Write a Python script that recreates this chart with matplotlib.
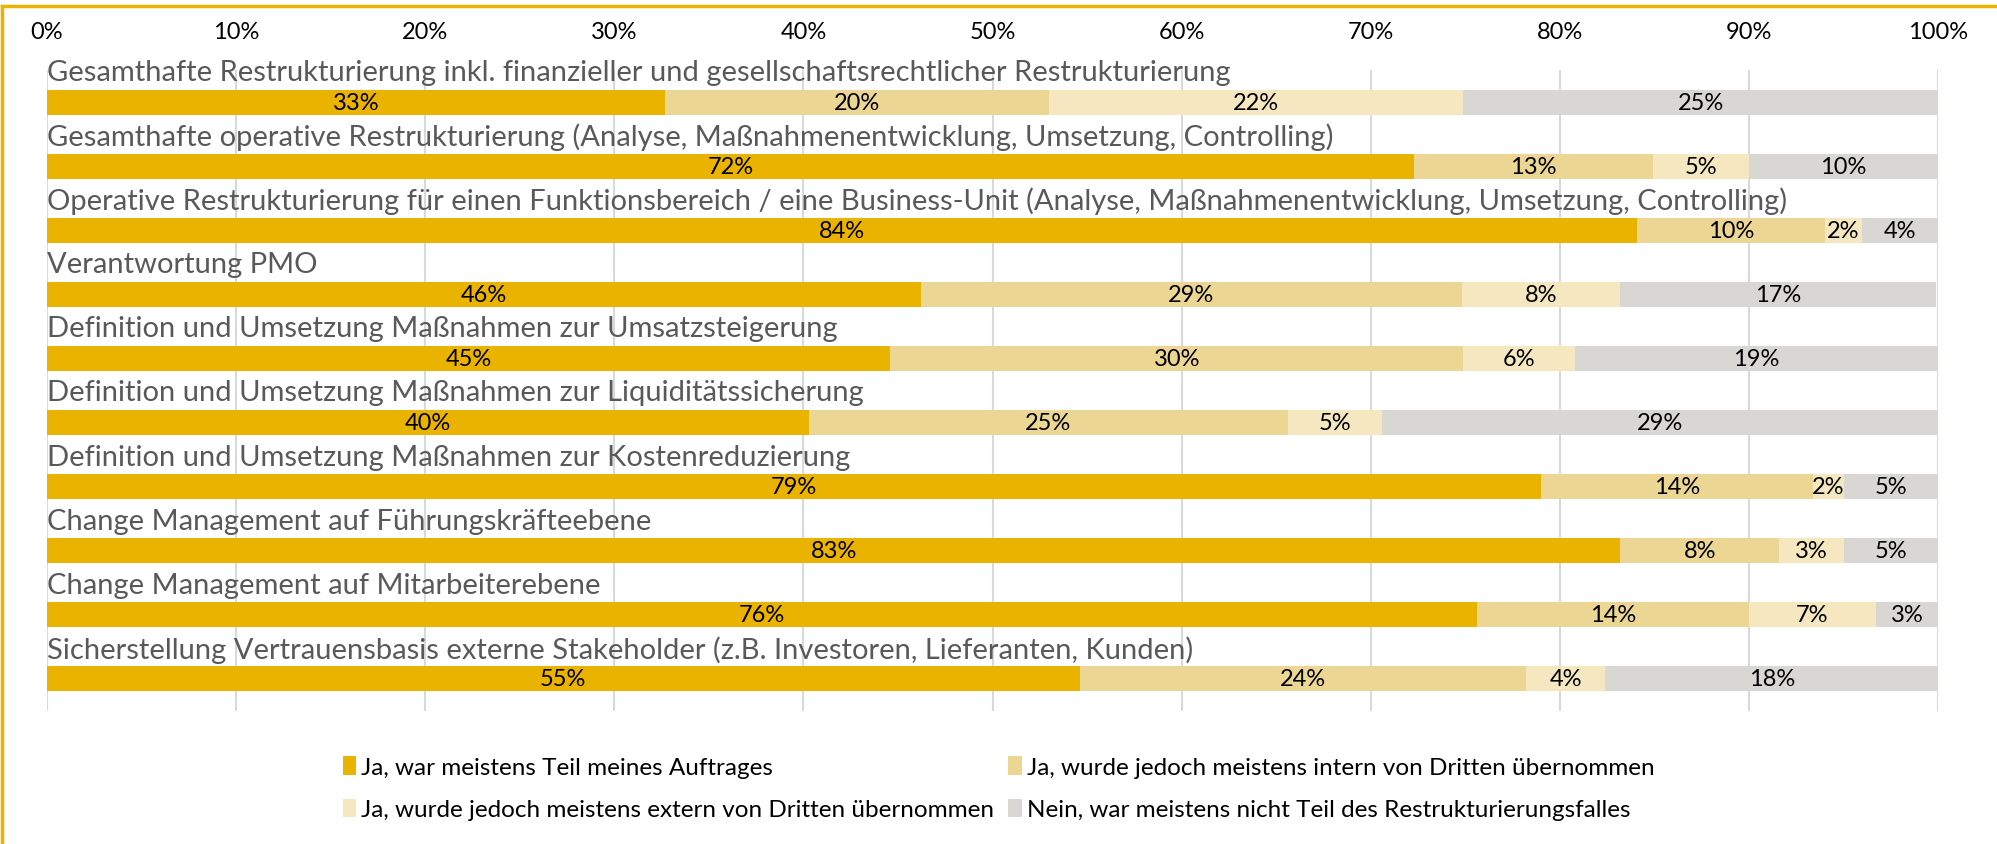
import matplotlib
matplotlib.use("Agg")
from matplotlib import pyplot as plt
from matplotlib.lines import Line2D
from matplotlib.patches import Patch
import numpy as np

plt.rcParams['font.family'] = ['Lato', 'DejaVu Sans']

# Kategorien (von oben nach unten)
kategorien = [
    "Gesamthafte Restrukturierung inkl. finanzieller und gesellschaftsrechtlicher Restrukturierung",
    "Gesamthafte operative Restrukturierung (Analyse, Maßnahmenentwicklung, Umsetzung, Controlling)",
    "Operative Restrukturierung für einen Funktionsbereich / eine Business-Unit (Analyse, Maßnahmenentwicklung, Umsetzung, Controlling)",
    "Verantwortung PMO",
    "Definition und Umsetzung Maßnahmen zur Umsatzsteigerung",
    "Definition und Umsetzung Maßnahmen zur Liquiditätssicherung",
    "Definition und Umsetzung Maßnahmen zur Kostenreduzierung",
    "Change Management auf Führungskräfteebene",
    "Change Management auf Mitarbeiterebene",
    "Sicherstellung Vertrauensbasis externe Stakeholder (z.B. Investoren, Lieferanten, Kunden)",
]

# Anteile in %
teil_auftrag = [32.7, 72.3, 84.1, 46.2, 44.6, 40.3, 79.0, 83.2, 75.6, 54.6]
intern_dritte = [20.3, 12.6, 9.9, 28.6, 30.3, 25.3, 14.4, 8.4, 14.4, 23.6]
extern_dritte = [21.9, 5.1, 2.0, 8.4, 5.9, 5.0, 1.6, 3.4, 6.7, 4.2]
nicht_teil = [25.1, 10.0, 4.0, 16.7, 19.2, 29.4, 5.0, 5.0, 3.3, 17.6]

serien = [teil_auftrag, intern_dritte, extern_dritte, nicht_teil]
namen = [
    "Ja, war meistens Teil meines Auftrages",
    "Ja, wurde jedoch meistens intern von Dritten übernommen",
    "Ja, wurde jedoch meistens extern von Dritten übernommen",
    "Nein, war meistens nicht Teil des Restrukturierungsfalles",
]
farben = ['#EAB300', '#ECD694', '#F5E8C0', '#D8D7D3']

fig = plt.figure(figsize=(19.97, 8.45), dpi=100)
ax = fig.add_axes([0.0235, 1 - 712 / 845, 0.947, 641 / 845])

y = np.arange(len(kategorien))
links = np.zeros(len(kategorien))
for werte, farbe in zip(serien, farben):
    werte = np.array(werte)
    ax.barh(y, werte, left=links, height=0.39, color=farbe, zorder=2)
    for yi, l, w in zip(y, links, werte):
        ax.text(l + w / 2, yi, f"{w:.0f}%", ha='center', va='center',
                fontsize=17, color='black', zorder=3)
    links = links + werte

for yi, name in zip(y, kategorien):
    ax.text(0, yi - 0.47, name, ha='left', va='center', fontsize=21,
            color='#595959', zorder=3)

ax.set_xlim(0, 100)
ax.set_ylim(9.5, -0.5)
ax.set_xticks(np.arange(0, 101, 10))
ax.set_xticklabels([f"{t}%" for t in range(0, 101, 10)])
ax.xaxis.tick_top()
ax.tick_params(axis='x', length=0, labelsize=17, pad=20)
ax.set_yticks([])
ax.grid(axis='x', color='#D9D9D9', linewidth=1.5, zorder=0)
ax.set_axisbelow(True)
for s in ax.spines.values():
    s.set_visible(False)

# Legende zeilenweise anordnen
handles = [Patch(facecolor=f, edgecolor='none') for f in farben]
reihenfolge = [0, 2, 1, 3]
fig.legend([handles[i] for i in reihenfolge], [namen[i] for i in reihenfolge],
           ncol=2, loc='center', bbox_to_anchor=(0.5, 0.066), frameon=False,
           fontsize=17.5, handlelength=0.55, handleheight=0.8, handletextpad=0.2,
           columnspacing=0.6, labelspacing=0.85)

# Rahmen links und oben
fig.add_artist(Line2D([0.0012, 0.0012], [0, 0.992], color='#EAB300', linewidth=2.5,
                      transform=fig.transFigure))
fig.add_artist(Line2D([0.0012, 1], [0.992, 0.992], color='#EAB300', linewidth=2.5,
                      transform=fig.transFigure))

fig.savefig("out.png", dpi=100)
